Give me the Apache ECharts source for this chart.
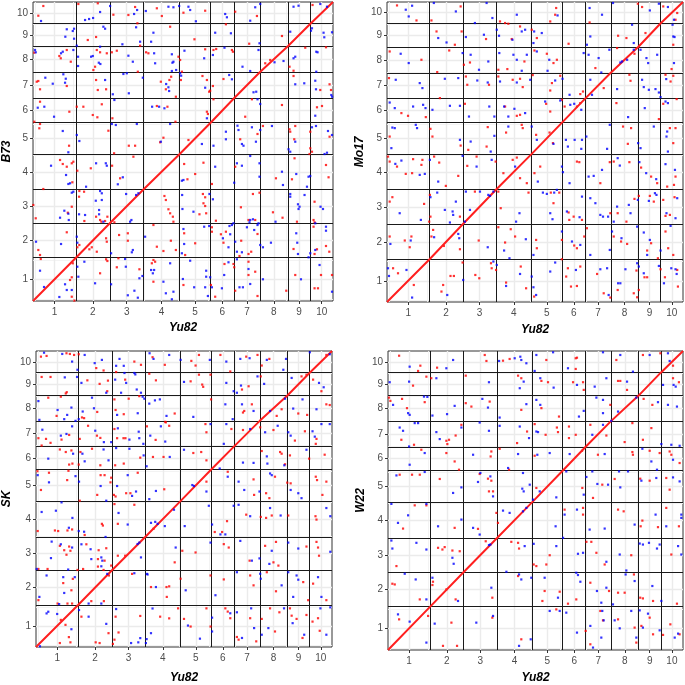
<!DOCTYPE html>
<html>
<head>
<meta charset="utf-8">
<script src="https://cdn.jsdelivr.net/npm/echarts@6/dist/echarts.min.js"></script>
<style>
html, body { margin: 0; padding: 0; background: #fff; }
#chart { width: 685px; height: 685px; }
</style>
</head>
<body>
<div id="chart"></div>
<script>
// chromosome labels and lengths (Mb)
const chromosomes = ['1', '2', '3', '4', '5', '6', '7', '8', '9', '10'];
const yu82Len = [300, 237, 237, 250, 218, 164, 180, 196, 158, 158];
const b73Len = [303, 241, 238, 245, 221, 171, 182, 182, 158, 152];
const mo17Len = [297, 247, 243, 247, 222, 168, 179, 182, 164, 149];
const skLen = [299, 243, 238, 254, 224, 166, 179, 180, 161, 154];
const w22Len = [304, 242, 238, 252, 222, 168, 180, 179, 161, 152];

// scattered hits [Yu82 Mb, query Mb]; red = same strand, blue = reverse
const b73Red = [[72,2065],[37,1997],[317,2079],[453,2084],[562,2004],[667,2002],[714,2058],[866,2049],[901,1995],[730,1944],[959,1920],[383,1827],[441,1848],[749,1787],[9,1738],[236,1757],[184,1715],[194,1699],[264,1675],[446,1757],[469,1741],[516,1734],[551,1741],[586,1752],[791,1741],[807,1734],[1029,1687],[1017,1710],[434,1640],[422,1617],[733,1605],[37,1540],[26,1535],[49,1482],[236,1505],[441,1547],[453,1477],[511,1482],[954,1547],[966,1570],[894,1535],[929,1482],[999,1430],[49,1395],[254,1325],[306,1360],[352,1360],[418,1302],[450,1286],[481,1377],[555,1279],[866,1365],[940,1360],[996,1255],[9,1255],[49,1239],[44,1209],[527,1192],[252,1087],[670,1087],[714,1087],[567,1034],[702,1010],[912,1143],[889,1111],[189,987],[208,959],[236,940],[271,964],[282,975],[404,929],[553,947],
[310,912],[275,831],[72,784],[324,770],[357,765],[322,730],[609,859],[243,618],[271,660],[19,579],[2,672],[359,560],[441,590],[469,567],[478,555],[504,560],[520,590],[569,551],[663,474],[919,735],[929,707],[947,642],[959,614],[978,590],[982,555],[842,532],[37,357],[49,322],[54,294],[236,481],[324,392],[310,376],[394,362],[411,376],[446,345],[516,415],[511,439],[511,292],[520,280],[602,462],[663,422],[597,299],[866,380],[912,350],[964,422],[999,357],[842,287],[854,275],[831,264],[278,264],[271,166],[259,147],[271,30],[289,3],[469,194],[586,236],[744,222],[842,135],
[1052,2018],[1204,2032],[1414,2025],[1566,1995],[1349,1937],[1512,1801],[1129,1832],[1741,1855],[1955,2072],[1204,1762],[1262,1757],[1281,1764],[1391,1757],[1398,1745],[1659,1687],[1624,1664],[1794,1640],[1904,1773],[2049,1776],[1822,1612],[1041,1605],[1034,1547],[1185,1575],[1216,1547],[1258,1505],[1239,1472],[1232,1465],[1332,1554],[1531,1412],[1822,1575],[2009,1477],[2074,1517],[2084,1477],[1262,1412],[1741,1372],[1986,1356],[2021,1365],[1216,1325],[1223,1309],[1484,1290],[1570,1169],[1608,1225],[1834,1225],[1794,1202],[1799,1185],[1939,1185],[2074,1150],[1087,1127],[1449,1132],[1827,1132],[1829,999],[1939,1069],[1934,1029],[1951,1045],[1057,959],[1192,968],[1414,940],[2049,952],
[1080,852],[1134,889],[1251,819],[1699,859],[1811,852],[2067,866],[1188,749],[1204,726],[1192,684],[1204,665],[1538,749],[1584,758],[1969,695],[1164,607],[1211,614],[1454,656],[1507,567],[1554,567],[1678,621],[1745,583],[1846,555],[1962,567],[1969,551],[1057,474],[1251,516],[1251,485],[1279,562],[1314,467],[1349,485],[1570,469],[1332,408],[1456,422],[1444,315],[1507,329],[1526,345],[1134,404],[1064,322],[1822,364],[1969,329],[1986,362],[2049,385],[2072,345],[1962,520],[1244,112],[1274,30],[1339,259],[1402,259],[1407,236],[1507,275],[1507,182],[1554,205],[1414,72],[1570,35],[1834,182],[1771,72],[1969,89],[1993,89],[2014,182],[2091,182],[1052,112]];
const b73Blue = [[56,1960],[539,2065],[469,2023],[420,1981],[392,1974],[364,1967],[707,2009],[728,2037],[789,2030],[947,2060],[982,2056],[1022,2065],[721,1916],[842,1878],[236,1902],[287,1906],[278,1890],[226,1850],[492,1920],[504,1906],[287,1836],[749,1815],[826,1815],[625,1797],[306,1787],[469,1780],[14,1757],[19,1741],[208,1745],[196,1734],[282,1757],[315,1710],[418,1715],[406,1710],[667,1717],[698,1675],[847,1734],[971,1727],[982,1675],[975,1668],[971,1610],[1001,1617],[854,1664],[315,1645],[460,1668],[471,1659],[768,1563],[632,1589],[656,1594],[212,1587],[229,1556],[224,1528],[86,1563],[138,1521],[504,1547],[558,1447],[670,1454],[931,1519],[947,1496],[952,1470],[33,1353],[79,1360],[569,1407],[147,1290],[726,1239],[833,1360],[882,1360],[919,1349],[959,1239],[208,1190],[579,1232],[551,1239],[306,1162],[324,1120],[247,1041],[894,1115],[126,947],[441,964],[509,964],[516,947],
[231,882],[259,824],[247,819],[271,758],[282,765],[371,800],[469,770],[481,754],[593,817],[628,866],[651,749],[481,707],[439,702],[219,632],[247,611],[250,567],[189,583],[322,607],[364,602],[462,637],[462,607],[492,555],[688,567],[679,555],[21,415],[196,399],[306,450],[310,408],[546,334],[698,357],[691,341],[644,294],[784,450],[49,212],[271,77],[224,117],[236,77],[184,28],[359,275],[310,240],[317,170],[434,124],[546,117],[649,240],[663,40],[709,72],[733,23],[744,159],[765,175],[826,217],[838,194],[847,217],[912,135],[929,54],[959,264],[982,65],[971,12],[721,742],[737,754],[77,98],
[1087,2060],[1099,2037],[1139,1958],[1344,2009],[1356,1986],[1554,2056],[1589,2079],[1519,1962],[1274,1878],[1384,1874],[1584,1804],[1799,1885],[1822,2060],[1857,2067],[2009,2079],[2056,2060],[2032,1878],[2037,1846],[2091,1881],[1944,1892],[1951,1909],[1059,1752],[1258,1722],[1197,1699],[1339,1773],[1577,1757],[1465,1640],[1519,1610],[1689,1671],[1752,1680],[1822,1699],[1834,1710],[1981,1745],[1990,1741],[1981,1605],[1029,1594],[1036,1577],[1204,1493],[1372,1582],[1391,1552],[1561,1465],[1542,1461],[1570,1412],[1834,1517],[1897,1524],[1974,1542],[1979,1482],[2086,1442],[2092,1430],[1589,1379],[1974,1297],[1216,1279],[1430,1227],[1437,1197],[1349,1185],[1531,1216],[1589,1197],[1671,1225],[1951,1216],[1979,1225],[2063,1190],[2091,1162],[1181,1099],[1262,1087],[1349,1132],[1461,1099],[1472,1087],[1559,1115],[1834,1115],[1787,1062],[1799,1045],[2039,1029],[2056,1038],[1519,1015],[1274,940],[1426,964],[1461,947],[1584,964],
[1041,842],[1052,847],[1407,828],[1584,870],[1741,905],[1748,812],[1841,889],[1927,870],[1939,875],[1916,800],[1043,742],[1045,644],[1234,749],[1258,712],[1799,749],[1799,730],[1899,742],[2011,660],[2028,644],[1122,625],[1519,567],[1538,572],[1514,551],[1402,544],[1577,544],[1696,555],[1853,677],[1857,644],[1864,660],[1974,544],[1052,504],[1057,399],[1041,334],[1197,520],[1232,525],[1374,525],[1391,532],[1496,516],[1547,497],[1570,532],[1328,439],[1379,467],[1414,415],[1367,376],[1461,341],[1426,345],[1589,392],[1608,376],[1664,408],[1841,474],[1848,408],[1853,329],[1939,334],[1927,306],[1974,357],[2049,492],[2049,520],[1099,282],[1211,212],[1211,170],[1204,96],[1223,35],[1239,166],[1251,96],[1337,182],[1321,89],[1367,271],[1426,292],[1507,224],[1519,119],[1444,96],[1468,96],[1608,152],[1874,152],[2004,252],[2091,65],[1048,154],[1127,96]];

const mo17Red = [[71,2074],[209,1969],[315,1969],[522,2067],[801,1962],[837,1951],[1199,2056],[1192,2009],[1157,1962],[1436,1955],[1778,2086],[1808,2063],[1958,2067],[2045,1974],[2057,2021],
[351,1892],[481,1799],[529,1892],[702,1839],[860,1946],[884,1839],[943,1927],[1026,1904],[1062,1846],[1287,1806],[1638,1862],[1697,1846],[1832,1881],[2029,1799],
[19,1752],[244,1694],[441,1759],[588,1675],[545,1659],[789,1624],[853,1629],[974,1682],[1045,1759],[1133,1736],[1204,1694],[1180,1671],[1477,1636],[1631,1776],[1754,1736],[2017,1629],
[14,1566],[356,1608],[559,1577],[569,1519],[723,1519],[789,1577],[891,1554],[943,1561],[962,1503],[1033,1587],[1169,1531],[1228,1582],[1157,1479],[1389,1472],[1370,1454],[1536,1496],[1718,1589],[1726,1547],[1974,1589],[2029,1582],[2010,1542],
[102,1321],[149,1302],[275,1293],[375,1426],[552,1386],[837,1367],[920,1302],[943,1309],[1128,1386],[1157,1332],[1240,1414],[1259,1367],[1346,1367],[1370,1391],[1626,1391],[1927,1279],[1958,1386],[2053,1419],
[19,1157],[308,1211],[322,1157],[522,1094],[576,1064],[706,1087],[714,1223],[844,1185],[955,1239],[962,1216],[1057,1169],[1152,1185],[1176,1111],[1707,1106],[1673,1227],[1730,1216],[2005,1216],[2045,1216],[2029,1111],
[7,1017],[19,982],[71,947],[133,896],[178,901],[185,999],[244,959],[251,994],[334,1017],[370,975],[417,812],[505,882],[569,952],[635,1017],[770,982],[825,901],[891,994],[920,1010],[943,866],[991,831],[1045,901],[1086,947],[1346,982],[1363,978],[1512,831],[1579,978],[1607,982],[1718,978],[1801,940],[1872,877],[1915,831],[1986,807],[2034,819],[2045,877],
[19,702],[38,733],[263,686],[304,749],[308,597],[299,562],[517,597],[623,772],[789,772],[806,656],[1003,765],[1161,765],[1221,765],[1180,691],[1287,626],[1292,574],[1323,597],[1382,574],[1583,621],[1635,621],[1697,562],[1754,721],[1785,742],[1863,742],[1891,702],[1958,714],[1974,602],[2005,609],[2038,733],
[19,458],[126,430],[173,458],[161,383],[315,458],[327,504],[403,392],[517,369],[650,430],[789,523],[877,509],[837,416],[908,458],[1057,434],[1062,376],[1240,434],[1327,395],[1346,376],[1398,458],[1417,516],[1607,458],[1659,423],[1702,406],[1872,411],[1844,360],[1974,493],[1993,376],[2029,329],
[43,236],[78,201],[190,119],[398,119],[386,73],[450,182],[474,182],[536,276],[626,189],[654,166],[737,271],[773,224],[742,236],[844,136],[948,248],[986,96],[1043,38],[1240,299],[1282,236],[1270,178],[1304,108],[1370,248],[1346,112],[1489,196],[1536,61],[1583,31],[1635,84],[1749,61],[1768,220],[1825,173],[1844,173],[1785,84],[1773,33],[1920,306],[1939,229],[1970,173],[2057,224],[2062,108]];
const mo17Blue = [[178,2072],[133,2044],[154,1997],[332,2091],[488,2032],[623,1951],[706,2091],[747,1986],[920,2009],[1209,2004],[1436,2056],[1524,2009],[1602,2091],[1863,2039],[1927,2086],[1991,2063],[2034,1974],[2024,1939],
[422,1815],[363,1846],[559,1853],[687,1869],[778,1904],[794,1862],[889,1834],[955,1892],[979,1904],[1043,1892],[1097,1881],[1038,1811],[1417,1799],[1441,1857],[1737,1939],[1749,1811],[2029,1857],[2038,1853],
[97,1736],[154,1671],[536,1741],[593,1729],[652,1624],[718,1682],[796,1741],[896,1729],[920,1694],[991,1729],[955,1617],[1062,1752],[1150,1694],[1138,1617],[1394,1741],[1429,1729],[1500,1706],[1519,1605],[1576,1764],[1654,1675],[1702,1694],[1797,1764],[1839,1706],[1851,1671],[1915,1729],[2034,1671],
[62,1554],[232,1531],[251,1496],[410,1561],[505,1566],[640,1549],[714,1535],[801,1542],[920,1535],[1015,1554],[1192,1549],[1244,1561],[1294,1449],[1441,1554],[1631,1489],[1808,1554],[1820,1503],[1856,1484],[1903,1489],[1927,1465],[1979,1559],[1939,1433],
[19,1395],[55,1356],[185,1367],[256,1379],[273,1356],[322,1344],[446,1372],[517,1372],[581,1297],[725,1367],[761,1297],[830,1367],[860,1297],[903,1351],[979,1321],[1121,1402],[1228,1409],[1299,1379],[1327,1386],[1377,1344],[1709,1293],[1827,1356],[1974,1402],[1991,1391],
[38,1220],[55,1216],[31,1076],[204,1239],[213,1216],[517,1134],[593,1122],[735,1052],[761,1162],[860,1227],[1026,1227],[1062,1134],[1180,1106],[1268,1134],[1282,1087],[1330,1134],[1382,1134],[1377,1071],[1413,1157],[1579,1239],[1560,1071],[1780,1111],[1797,1076],[1891,1227],[1986,1192],[1981,1157],[1991,1052],
[59,966],[102,989],[232,889],[268,896],[304,994],[363,842],[536,1022],[635,947],[742,994],[908,947],[1069,842],[1240,947],[1247,908],[1294,831],[1429,877],[1465,882],[1524,924],[1635,1006],[1650,954],[1789,978],[1837,901],[1908,859],[1974,964],[2041,924],
[90,621],[308,733],[356,765],[240,574],[410,644],[465,633],[469,609],[488,702],[446,556],[559,772],[588,644],[659,772],[754,772],[915,562],[939,621],[1105,765],[1133,756],[1185,765],[1204,784],[1157,621],[1173,579],[1275,633],[1365,593],[1382,737],[1441,726],[1477,691],[1512,609],[1531,597],[1567,597],[1607,562],[1631,667],[1714,679],[1726,621],[1778,714],[1856,707],[1899,761],[1910,749],[1981,621],[2057,726],[2045,586],
[24,406],[168,430],[334,453],[505,476],[512,446],[714,383],[830,360],[868,306],[984,439],[1038,329],[1240,493],[1311,423],[1370,399],[1441,329],[1595,493],[1662,446],[1579,364],[1773,527],[1820,486],[1863,434],[1844,329],[1939,360],[2010,532],
[7,236],[14,182],[138,224],[178,31],[427,49],[540,154],[754,283],[778,259],[844,112],[943,196],[1026,178],[1038,103],[1057,49],[1157,213],[1192,276],[1339,224],[1512,229],[1560,236],[1571,49],[1638,131],[1654,131],[1690,229],[1773,271],[1785,248],[1820,201],[1927,252],[1963,131],[2015,236],[2045,229],[2053,196],
[730,742],[718,749],[552,562],[1666,1682],[1749,1764],[1453,1449]];

const skRed = [[35,2058],[75,2063],[216,2082],[240,2077],[270,2070],[303,2075],[427,1977],[479,1960],[568,1949],[697,2023],[744,2000],[826,2054],[913,2000],[364,1890],[451,1865],[510,1888],[505,1813],[40,1914],[103,1914],[632,1895],[803,1937],[850,1890],[732,1778],[211,1797],[218,1806],[87,1767],[176,1774],[326,1627],[341,1622],[146,1638],[434,1666],[556,1755],[564,1680],[622,1650],[657,1760],[916,1596],[17,1480],[40,1428],[71,1475],[103,1447],[181,1470],[235,1503],[310,1475],[369,1568],[432,1498],[456,1482],[556,1545],[575,1480],[620,1480],[634,1480],[786,1564],[848,1468],[920,1592],[944,1568],[169,1400],[211,1382],[251,1393],[258,1300],[235,1293],[303,1293],[315,1382],[397,1405],[456,1288],[561,1288],[622,1300],[739,1342],[829,1347],[904,1347],[10,1246],[92,1235],[221,1183],[230,1249],[458,1218],[486,1218],[533,1200],[528,1167],[721,1235],[669,1090],[639,1090],[909,1118],[35,1113],[310,1037],[434,1078],[552,1078],[564,1067],[556,1013],[697,1008],
[467,873],[474,861],[580,873],[833,838],[12,822],[134,826],[157,822],[223,826],[256,833],[345,794],[169,717],[235,712],[357,728],[444,686],[498,700],[200,686],[244,682],[216,654],[580,647],[632,647],[439,623],[486,612],[17,553],[82,553],[294,546],[334,553],[439,570],[479,546],[517,507],[533,577],[193,453],[261,483],[251,402],[681,518],[815,425],[925,425],[944,430],[927,355],[17,332],[153,308],[223,308],[256,308],[392,325],[481,325],[176,192],[209,157],[233,70],[244,33],[322,215],[564,215],[514,98],[585,103],[545,22],[739,220],[880,215],[944,203],[169,28],[423,33],[451,28],[556,52],
[1101,2028],[1131,1995],[1155,2070],[1307,2070],[1377,1953],[1490,2058],[1570,2070],[1600,1995],[1654,2042],[2058,2070],[1096,1883],[1178,1860],[1185,1844],[1155,1930],[1237,1930],[1460,1825],[1507,1848],[1593,1918],[1882,1918],[1917,1930],[1964,1895],[2023,1813],[983,1655],[1241,1755],[1467,1662],[1476,1673],[1530,1720],[1706,1638],[1741,1685],[1859,1655],[1922,1645],[2058,1720],[2082,1715],[1201,1580],[1208,1522],[1385,1545],[1467,1538],[1589,1557],[1683,1538],[1835,1463],[1906,1529],[1988,1475],[1983,1440],[1115,1375],[1171,1382],[1208,1323],[1600,1389],[1730,1382],[1741,1370],[1765,1295],[1800,1358],[1936,1335],[2046,1363],[1208,1172],[1359,1242],[1542,1188],[1546,1078],[1631,1090],[1654,1055],[1694,1207],[1781,1165],[1805,1160],[1983,1207],[1992,1183],[2058,1172],[2030,1078],[1267,815],[1319,815],[1354,892],[1490,938],[1593,922],[1631,915],[1671,932],[1788,932],[1981,927],[1988,903],[983,600],[1037,682],[1131,670],[1366,705],[1331,729],[1514,612],[1624,717],[1701,745],[1683,600],[1718,577],[1917,712],[1988,745],[1999,705],[2006,647],[1025,484],[1237,507],[1331,479],[1518,507],[1542,437],[1636,530],[1701,395],[1894,460],[1929,332],[1964,449],[2058,332],[1007,274],[1049,199],[1096,145],[1208,274],[1237,145],[1342,274],[1359,251],[1377,204],[1424,71],[1436,52],[1518,204],[1561,40],[1600,199],[1659,274],[1694,110],[1725,246],[1800,274],[1812,222],[1847,199],[1889,64],[1917,227],[1960,180],[1999,204],[2011,115]];
const skBlue = [[57,2086],[186,2077],[256,2023],[345,2070],[416,2012],[467,2035],[568,1993],[592,2042],[622,1993],[805,2082],[833,2042],[944,2070],[294,1965],[322,1872],[498,1802],[204,1911],[291,1914],[561,1895],[627,1942],[639,1872],[697,1942],[704,1932],[714,1825],[744,1802],[603,1802],[17,1743],[251,1697],[303,1615],[331,1669],[153,1680],[221,1645],[24,1610],[200,1615],[397,1767],[411,1692],[575,1645],[721,1657],[756,1774],[768,1760],[803,1725],[843,1748],[878,1755],[925,1638],[45,1540],[176,1498],[216,1510],[256,1564],[280,1603],[420,1533],[481,1452],[580,1550],[533,1452],[662,1470],[728,1526],[732,1480],[761,1440],[810,1498],[916,1456],[885,1564],[87,1335],[263,1370],[345,1316],[329,1370],[479,1400],[514,1323],[568,1410],[662,1405],[763,1358],[784,1281],[948,1347],[12,1218],[92,1167],[280,1211],[305,1172],[458,1141],[575,1141],[650,1218],[709,1102],[850,1106],[181,1025],[498,1037],[681,1071],[803,1048],
[40,957],[141,966],[258,915],[341,817],[585,950],[650,868],[815,880],[845,887],[862,873],[913,857],[233,845],[303,822],[493,780],[111,747],[176,728],[322,728],[387,693],[256,705],[106,630],[392,623],[463,635],[470,612],[744,635],[5,553],[228,549],[463,572],[505,518],[75,507],[193,495],[200,383],[275,495],[697,523],[786,518],[850,425],[791,514],[24,355],[164,304],[305,262],[373,308],[463,308],[75,238],[87,250],[150,234],[251,126],[373,215],[568,269],[498,164],[674,28],[725,33],[739,63],[826,273],[815,98],[28,5],[779,28],[784,56],
[1025,2035],[1232,2035],[1349,2023],[1448,2042],[1514,2047],[1636,2035],[1772,2042],[1753,1965],[1941,2089],[2082,2075],[1049,1879],[1349,1872],[1401,1813],[1424,1802],[1453,1853],[1570,1918],[1617,1865],[1812,1907],[2006,1872],[2039,1841],[1115,1631],[1342,1720],[1394,1615],[1460,1720],[1542,1673],[1659,1673],[1823,1690],[1889,1755],[1988,1685],[1237,1580],[1349,1580],[1331,1440],[1518,1545],[1624,1522],[1713,1568],[1788,1522],[1805,1498],[1960,1529],[1976,1491],[2023,1580],[2082,1580],[1049,1398],[1467,1307],[1542,1305],[1636,1351],[1640,1300],[1760,1288],[1917,1398],[1108,1148],[1208,1102],[1302,1265],[1359,1207],[1436,1172],[1476,1113],[1584,1102],[1659,1230],[1671,1218],[1805,1113],[1859,1090],[1882,1055],[978,973],[1054,857],[1225,1001],[1248,868],[1307,798],[1342,798],[1401,1001],[1436,1008],[1518,927],[1659,985],[1734,932],[2058,985],[2086,927],[990,705],[1237,740],[1448,752],[1530,612],[1584,628],[1671,682],[1654,589],[1788,740],[1788,530],[1859,698],[2086,675],[1061,402],[1272,367],[1424,530],[1589,519],[1593,484],[1741,437],[1847,507],[1859,477],[1823,355],[1999,495],[2023,355],[1077,152],[1162,59],[1248,208],[1248,110],[1377,239],[1424,246],[1460,64],[1525,274],[1546,134],[1647,134],[1600,87],[1758,274],[1819,169],[1901,87],[2016,274],[2058,87],[2086,281],
[1765,1760],[1119,1141],[732,740],[720,730]];

const w22Red = [[79,2065],[214,1958],[230,1995],[349,1981],[688,2070],[700,2028],[818,2030],[865,2042],[1126,2035],[1335,2047],[1344,2051],[1335,1972],[1624,2035],[1813,2070],[1937,2082],[2027,1995],
[178,1855],[273,1918],[308,1907],[553,1925],[925,1925],[948,1907],[1091,1888],[1138,1879],[1316,1879],[1387,1879],[1392,1825],[1636,1888],[1652,1888],[1700,1825],[2069,1879],[2027,1907],
[7,1771],[17,1748],[100,1762],[135,1697],[261,1739],[553,1732],[593,1708],[723,1743],[948,1685],[1091,1697],[1216,1638],[1581,1720],[1818,1762],[1880,1720],
[95,1475],[185,1440],[415,1468],[422,1445],[434,1475],[481,1505],[522,1580],[918,1452],[989,1533],[1043,1585],[1121,1510],[1201,1561],[1209,1529],[1287,1568],[1287,1487],[1335,1510],[1439,1580],[1553,1505],[1683,1459],[1738,1592],[1813,1475],[1873,1557],
[237,1405],[415,1382],[474,1323],[505,1265],[735,1393],[730,1358],[794,1412],[1043,1363],[1380,1398],[1493,1370],[1738,1389],[1742,1370],[1861,1398],[1932,1382],[2003,1393],[2015,1370],[2074,1312],
[83,1230],[171,1230],[226,1230],[368,1200],[652,1235],[711,1202],[735,1188],[718,1113],[747,1113],[861,1265],[1055,1137],[1382,1137],[1458,1067],[1524,1160],[1612,1200],[1794,1202],[1861,1188],[1979,1207],[2003,1125],
[107,852],[190,1015],[273,1015],[474,857],[640,850],[771,962],[782,892],[1256,985],[1387,997],[1387,950],[1636,985],[1676,973],[1797,868],[1809,908],[1920,862],[1979,997],[2069,868],
[60,589],[356,717],[403,722],[387,705],[458,698],[510,693],[695,763],[877,759],[925,752],[932,712],[1055,589],[1036,600],[1126,600],[1150,665],[1411,759],[1446,759],[1482,682],[1541,600],[1730,665],[2015,670],
[31,465],[48,460],[320,479],[316,456],[226,355],[415,425],[481,355],[742,367],[925,519],[1114,414],[1098,344],[1221,409],[1280,325],[1339,355],[1439,472],[1572,414],[1636,402],[1683,402],[1749,530],[1794,367],[1813,362],[1885,344],[2055,325],
[79,215],[285,239],[391,29],[451,192],[491,29],[742,227],[948,75],[1197,285],[1406,134],[1439,40],[1510,274],[1529,208],[1636,215],[1766,52],[1754,157],[1802,169],[1861,227],[1885,110],[1956,106],[2008,180],[2074,110]];
const w22Blue = [[154,1988],[415,1977],[463,2035],[790,2028],[901,2047],[941,2058],[948,2035],[984,2012],[1055,2070],[1043,1958],[1174,2089],[1280,1977],[1529,2089],[1652,2070],[1742,1953],[1861,2070],[1991,2082],[2003,2028],
[12,1879],[150,1883],[344,1907],[718,1879],[937,1837],[965,1883],[1083,1907],[1178,1841],[1344,1860],[1470,1848],[1553,1907],[1700,1883],[1956,1860],[2031,1860],[2046,1848],
[36,1720],[154,1650],[143,1662],[256,1778],[280,1776],[316,1645],[420,1655],[474,1713],[671,1762],[711,1701],[794,1631],[984,1725],[1055,1755],[1083,1720],[1358,1638],[1392,1678],[1482,1771],[1529,1755],[1529,1662],[1588,1608],[1636,1673],[1920,1739],[1991,1720],[2055,1708],
[83,1561],[107,1538],[190,1592],[214,1592],[150,1428],[344,1529],[368,1480],[522,1561],[652,1596],[718,1538],[794,1573],[937,1568],[1003,1487],[1055,1533],[1067,1529],[1453,1510],[1529,1580],[1944,1445],[2015,1440],[2074,1433],
[154,1300],[261,1382],[605,1370],[854,1277],[925,1375],[1062,1370],[1150,1382],[1292,1375],[1541,1375],[1809,1412],[1873,1323],[1913,1265],[2027,1335],
[60,1225],[261,1249],[463,1102],[522,1141],[657,1242],[728,1218],[640,1179],[747,1078],[960,1242],[955,1132],[965,1113],[1008,1160],[1079,1113],[1197,1071],[1268,1253],[1392,1090],[1411,1214],[1453,1253],[1489,1165],[1565,1160],[1643,1253],[1652,1141],[1707,1253],[1802,1188],[1908,1207],[2027,1211],[2074,1183],
[24,1025],[71,892],[143,945],[273,1025],[356,868],[522,915],[605,857],[652,810],[818,978],[865,962],[960,973],[984,997],[1192,868],[1256,950],[1344,985],[1434,845],[1541,852],[1754,880],[1903,950],[1979,868],[2086,950],[2086,927],
[24,768],[31,712],[202,752],[273,705],[458,647],[467,605],[842,549],[972,729],[1036,745],[1197,729],[1245,787],[1351,675],[1387,682],[1553,619],[1648,670],[1695,558],[1790,747],[1813,740],[1856,752],[1913,712],[1932,740],[2063,729],[2086,670],
[119,535],[197,495],[316,507],[273,355],[498,344],[735,437],[932,530],[948,495],[1019,507],[1114,507],[1209,367],[1339,542],[1351,526],[1368,479],[1486,414],[1517,332],[1553,437],[1600,320],[1690,530],[1754,484],[1880,449],[1944,344],
[71,250],[154,199],[332,185],[273,52],[628,192],[747,239],[932,29],[1015,75],[1150,274],[1221,274],[1268,262],[1344,122],[1439,169],[1458,17],[1517,87],[1524,274],[1534,208],[1612,208],[1648,152],[1730,274],[1766,87],[1790,278],[1813,157],[1849,255],[1932,138],[2039,87],[2063,115],
[728,740],[718,736],[1031,1055],[1766,1771]];

const FONT = '"Liberation Sans", Arial, sans-serif';

// one entry per panel
const panels = [
    { name: 'B73', len: b73Len, red: b73Red, blue: b73Blue, rect: { left: 33, top: 2, width: 300, height: 299 }, xGap: 21, yGap: 20 },
    { name: 'Mo17', len: mo17Len, red: mo17Red, blue: mo17Blue, rect: { left: 387, top: 2, width: 296, height: 300 }, xGap: 22, yGap: 21 },
    { name: 'SK', len: skLen, red: skRed, blue: skBlue, rect: { left: 34, top: 351, width: 298, height: 300 }, xGap: 25, yGap: 23 },
    { name: 'W22', len: w22Len, red: w22Red, blue: w22Blue, rect: { left: 388, top: 351, width: 295, height: 300 }, xGap: 22, yGap: 21 }
];

// cumulative chromosome ends
const cumulative = (len) => {
    const out = [0];
    len.forEach((l) => out.push(out[out.length - 1] + l));
    return out;
};
// tick positions = chromosome middles
const middles = (len) => {
    const c = cumulative(len);
    return len.map((l, i) => c[i] + l / 2);
};
// ggplot style minor breaks between the major ones
const minorBreaks = (b, total) => {
    const ext = [b[0] - (b[1] - b[0])].concat(b, [b[b.length - 1] + (b[b.length - 1] - b[b.length - 2])]);
    const out = [];
    for (let i = 0; i < ext.length - 1; i++) {
        const m = (ext[i] + ext[i + 1]) / 2;
        if (m > 0 && m < total) out.push(m);
    }
    return out;
};
const nearestLabel = (arr, v) => {
    let best = 0;
    arr.forEach((a, i) => { if (Math.abs(a - v) < Math.abs(arr[best] - v)) best = i; });
    return chromosomes[best];
};

const majorStyle = { color: '#ebebeb', width: 1.4, type: 'solid' };
const minorStyle = { color: '#f2f2f2', width: 0.9, type: 'solid' };
const chrStyle = { color: '#1a1a1a', width: 1, type: 'solid' };

const xTotal = cumulative(yu82Len)[yu82Len.length];
const xMid = middles(yu82Len);
const xEnds = cumulative(yu82Len);

const grid = [], xAxis = [], yAxis = [], series = [];

panels.forEach((p, i) => {
    const yEnds = cumulative(p.len);
    const yTotal = yEnds[yEnds.length - 1];
    const yMid = middles(p.len);

    grid.push(Object.assign({ show: true, backgroundColor: '#fff', borderColor: '#333', borderWidth: 1 }, p.rect));

    xAxis.push({
        gridIndex: i, type: 'value', min: 0, max: xTotal,
        name: 'Yu82', nameLocation: 'middle', nameGap: p.xGap,
        nameTextStyle: { fontFamily: FONT, fontSize: 12, fontWeight: 'bold', fontStyle: 'italic', color: '#000' },
        axisLine: { show: false },
        axisTick: { show: true, customValues: xMid, length: 3, lineStyle: { color: '#333' } },
        axisLabel: { customValues: xMid, margin: 6, color: '#4d4d4d', fontSize: 10, fontFamily: FONT,
            formatter: (v) => nearestLabel(xMid, v) },
        splitLine: { show: false }
    });
    yAxis.push({
        gridIndex: i, type: 'value', min: 0, max: yTotal,
        name: p.name, nameLocation: 'middle', nameGap: p.yGap, nameRotate: 90,
        nameTextStyle: { fontFamily: FONT, fontSize: 12, fontWeight: 'bold', fontStyle: 'italic', color: '#000' },
        axisLine: { show: false },
        axisTick: { show: true, customValues: yMid, length: 3, lineStyle: { color: '#333' } },
        axisLabel: { customValues: yMid, margin: 5, color: '#4d4d4d', fontSize: 10, fontFamily: FONT,
            formatter: (v) => nearestLabel(yMid, v) },
        splitLine: { show: false }
    });

    // background grid (major at chromosome middles, minor in between)
    const gridLines = []
        .concat(minorBreaks(xMid, xTotal).map((v) => ({ xAxis: v, lineStyle: minorStyle })))
        .concat(minorBreaks(yMid, yTotal).map((v) => ({ yAxis: v, lineStyle: minorStyle })))
        .concat(xMid.map((v) => ({ xAxis: v, lineStyle: majorStyle })))
        .concat(yMid.map((v) => ({ yAxis: v, lineStyle: majorStyle })));
    series.push({
        type: 'scatter', xAxisIndex: i, yAxisIndex: i, data: [], silent: true,
        markLine: { silent: true, z: 1, animation: false, symbol: ['none', 'none'], label: { show: false },
            lineStyle: { type: 'solid' }, emphasis: { disabled: true }, data: gridLines }
    });

    // chromosome boundaries
    const chrLines = []
        .concat(xEnds.slice(1, -1).map((v) => ({ xAxis: v, lineStyle: chrStyle })))
        .concat(yEnds.slice(1, -1).map((v) => ({ yAxis: v, lineStyle: chrStyle })));
    series.push({
        type: 'scatter', xAxisIndex: i, yAxisIndex: i, data: [], silent: true,
        markLine: { silent: true, z: 2, animation: false, symbol: ['none', 'none'], label: { show: false },
            lineStyle: { type: 'solid' }, emphasis: { disabled: true }, data: chrLines }
    });

    series.push({
        type: 'scatter', xAxisIndex: i, yAxisIndex: i, data: p.red, z: 3, silent: true,
        symbol: 'rect', symbolSize: 2.2, itemStyle: { color: '#ff0000' }
    });

    // collinear diagonal: runs through the paired chromosome ends
    series.push({
        type: 'line', xAxisIndex: i, yAxisIndex: i, z: 4, silent: true,
        data: xEnds.map((x, k) => [x, yEnds[k]]),
        symbol: 'none', lineStyle: { color: '#ff1f1f', width: 2 }
    });

    series.push({
        type: 'scatter', xAxisIndex: i, yAxisIndex: i, data: p.blue, z: 5, silent: true,
        symbol: 'rect', symbolSize: 2.2, itemStyle: { color: '#0000ff' }
    });
});

const chart = echarts.init(document.getElementById('chart'));
chart.setOption({
    animation: false,
    backgroundColor: '#fff',
    grid: grid,
    xAxis: xAxis,
    yAxis: yAxis,
    series: series
});
</script>
</body>
</html>
